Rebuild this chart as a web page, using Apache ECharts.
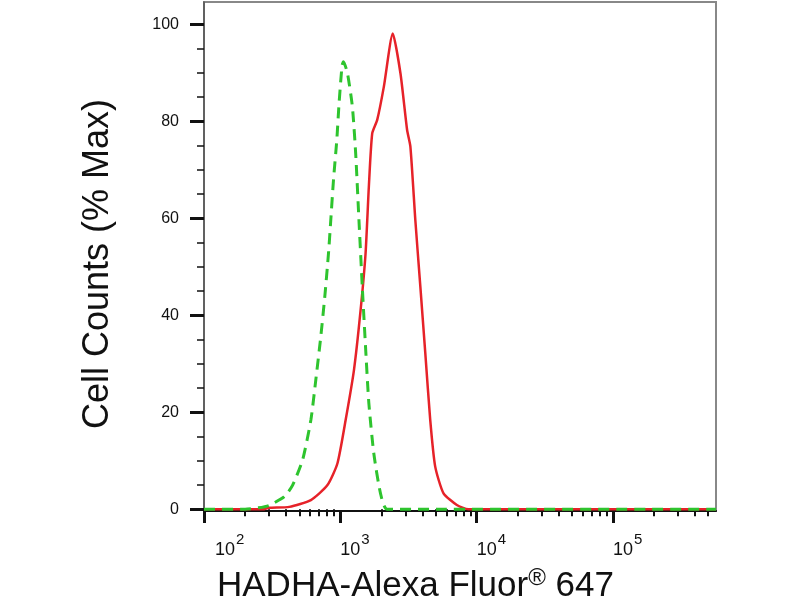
<!DOCTYPE html>
<html><head><meta charset="utf-8">
<script src="https://cdn.jsdelivr.net/npm/echarts@6/dist/echarts.min.js"></script>
<style>html,body{margin:0;padding:0;background:#fff}#c{width:800px;height:600px}</style>
</head><body><div id="c"></div>
<script>
// ---- data ----
const xMajorTicks = [100, 1000, 10000, 100000];
const xMinorTicks = [200, 300, 400, 500, 600, 700, 800, 900,
  2000, 3000, 4000, 5000, 6000, 7000, 8000, 9000,
  20000, 30000, 40000, 50000, 60000, 70000, 80000, 90000,
  200000, 300000, 400000, 500000];
const yMajorTicks = [0, 20, 40, 60, 80, 100];
const yMinorTicks = [5, 10, 15, 25, 30, 35, 45, 50, 55, 65, 70, 75, 85, 90, 95];

const redX = [100, 270, 300, 422, 608, 805, 953, 1094, 1259, 1409, 1532, 1619, 1714, 1865, 2085, 2426, 2761, 3090, 3266, 3551, 3864, 4201, 4567, 4967, 5715, 7157, 8699, 570000];
const redY = [0, 0, 0.3, 0.5, 1.9, 5.0, 9.5, 18.4, 28.7, 41.1, 52.8, 66.5, 77.5, 80.3, 87.1, 98.1, 89.9, 78.2, 74.8, 59.6, 45.9, 32.2, 18.4, 8.8, 3.3, 0.9, 0, 0];

const greenX = [100, 200, 250, 300, 388, 447, 529, 608, 661, 719, 769, 819, 851, 891, 942, 979, 1030, 1054, 1128, 1226, 1296, 1370, 1449, 1531, 1619, 1761, 1971, 2208, 570000];
const greenY = [0, 0, 0.3, 0.8, 2.6, 5.0, 10.2, 18.4, 26.7, 35.6, 43.8, 52.8, 59.6, 67.9, 76.1, 83.7, 91.5, 92.3, 89.9, 83.0, 73.4, 59.6, 45.9, 33.5, 21.9, 11.5, 3.3, 0, 0];

const xTitle = '{t|HADHA-Alexa Fluor}{r|®}{t| 647}';
const yTitle = 'Cell Counts (% Max)';

// ---- chart ----
const FONT = '"Liberation Sans", Arial, Helvetica, sans-serif';
const XMIN = 100, XMAX = 570000, YMIN = -0.35, YMAX = 104.6;

const chart = echarts.init(document.getElementById('c'), null, {renderer: 'canvas'});
const pairs = (xs, ys) => xs.map((x, i) => [x, ys[i]]);

chart.setOption({
  animation: false,
  backgroundColor: '#fff',
  title: {
    text: xTitle,
    left: 217, top: 566, padding: 0,
    textStyle: {
      fontWeight: 'normal',
      rich: {
        t: {fontSize: 35, fontWeight: 'normal', fontFamily: FONT, color: '#111', lineHeight: 40},
        r: {fontSize: 24, fontWeight: 'normal', fontFamily: FONT, color: '#111', verticalAlign: 'top', lineHeight: 26}
      }
    }
  },
  grid: {left: 204, right: 84, top: 2, bottom: 89, show: true, borderColor: '#888', borderWidth: 2, containLabel: false},
  xAxis: [{
    type: 'log', logBase: 10, min: XMIN, max: XMAX, position: 'bottom',
    axisLine: {show: true, onZero: false, lineStyle: {color: '#111', width: 2}},
    axisTick: {show: true, customValues: xMajorTicks, length: 12, lineStyle: {color: '#111', width: 3}},
    axisLabel: {
      show: true, customValues: xMajorTicks, align: 'left', margin: 21,
      formatter: function (v) {
        const e = Math.round(Math.log10(v));
        return (e === 2 ? '{bf|10}' : '{b|10}') + '{s|' + e + '}';
      },
      rich: {
        b: {fontSize: 18, lineHeight: 27, fontFamily: FONT, color: '#111', verticalAlign: 'bottom'},
        bf: {fontSize: 18, lineHeight: 27, fontFamily: FONT, color: '#111', verticalAlign: 'bottom', padding: [0, 0, 0, 11]},
        s: {fontSize: 15, lineHeight: 15, fontFamily: FONT, color: '#111', verticalAlign: 'top', padding: [0, 0, 0, 1]}
      }
    },
    splitLine: {show: false}, minorTick: {show: false}, minorSplitLine: {show: false}
  }, {
    type: 'log', logBase: 10, min: XMIN, max: XMAX, position: 'bottom',
    axisLine: {show: false},
    axisTick: {show: true, customValues: xMinorTicks, length: 7, lineStyle: {color: '#111', width: 2}},
    axisLabel: {show: false},
    splitLine: {show: false}
  }],
  yAxis: [{
    type: 'value', min: YMIN, max: YMAX, position: 'left',
    name: yTitle, nameLocation: 'middle', nameGap: 88,
    nameTextStyle: {fontSize: 36, fontFamily: FONT, color: '#111', padding: [0, 15, 0, 0]},
    axisLine: {show: true, onZero: false, lineStyle: {color: '#555', width: 1.5}},
    axisTick: {show: true, customValues: yMajorTicks, length: 14, lineStyle: {color: '#111', width: 3}},
    axisLabel: {show: true, customValues: yMajorTicks, margin: 25, fontSize: 16, fontFamily: FONT, color: '#111'},
    splitLine: {show: false}
  }, {
    type: 'value', min: YMIN, max: YMAX, position: 'left',
    axisLine: {show: false},
    axisTick: {show: true, customValues: yMinorTicks, length: 7, lineStyle: {color: '#111', width: 1.5}},
    axisLabel: {show: false},
    splitLine: {show: false}
  }],
  series: [{
    name: 'HADHA', type: 'line', xAxisIndex: 0, yAxisIndex: 0,
    data: pairs(redX, redY), symbol: 'none', smooth: 0.2,
    lineStyle: {color: '#e62229', width: 2.5}
  }, {
    name: 'Isotype', type: 'line', xAxisIndex: 0, yAxisIndex: 0,
    data: pairs(greenX, greenY), symbol: 'none', smooth: 0.2,
    lineStyle: {color: '#2ec42e', width: 3, type: [11, 7]}
  }]
});
</script>
</body></html>
